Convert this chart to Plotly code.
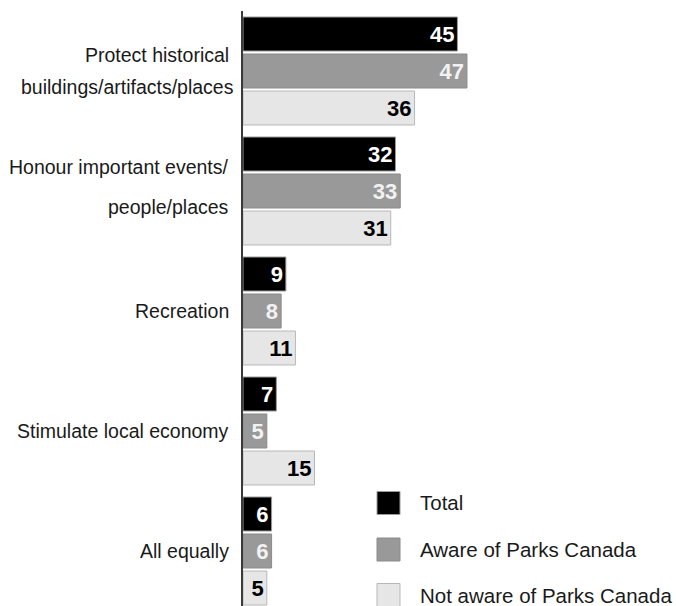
import plotly.graph_objects as go

# Survey categories (top to bottom) and percentages per respondent group
categories = [
    "Protect historical<br>buildings/artifacts/places",
    "Honour important events/<br>people/places",
    "Recreation",
    "Stimulate local economy",
    "All equally",
]
series_names = ["Total", "Aware of Parks Canada", "Not aware of Parks Canada"]
total = [45, 32, 9, 7, 6]
aware = [47, 33, 8, 5, 6]
not_aware = [36, 31, 11, 15, 5]

# Styling
fills = ["#000000", "#999999", "#e6e6e6"]
edges = ["#9a9a9a", "#8a8a8a", "#b8b8b8"]
value_colors = ["#ffffff", "#f2f2f2", "#000000"]
label_font = "Liberation Sans, Arial, sans-serif"
value_font = "Liberation Sans, Arial, sans-serif"

W, H = 676, 606
LEFT, TOP = 243, 11
PX_PER_UNIT = 4.765          # horizontal scale, px per percentage point
PX_PER_CAT = 120             # vertical pitch of each category group

plot_w = W - LEFT
plot_h = H - TOP

fig = go.Figure()
for name, vals, fill, edge, tc in zip(series_names, [total, aware, not_aware],
                                      fills, edges, value_colors):
    fig.add_trace(go.Bar(
        y=categories, x=vals, orientation="h", name=name,
        marker=dict(color=fill, line=dict(color=edge, width=1)),
        text=[str(v) for v in vals],
        textposition="inside", insidetextanchor="end", textangle=0,
        constraintext="none",
        textfont=dict(family=value_font, size=22, color=tc, weight="bold"),
        cliponaxis=False,
    ))

# Category labels drawn line by line (right aligned next to the axis)
line_offsets = {
    0: [(16.5, -12), (-16, -7)],
    1: [(24.5, -12), (-15.5, -12)],
}
annotations = []
for i, cat in enumerate(categories):
    lines = cat.split("<br>")
    offs = line_offsets.get(i, [(0, -12)] * len(lines))
    for line, (dy, dx) in zip(lines, offs):
        annotations.append(dict(
            x=0, y=cat, xref="x", yref="y", text=line, showarrow=False,
            xanchor="right", yanchor="middle", xshift=dx, yshift=dy,
            font=dict(family=label_font, size=19.5, color="#1a1a1a"),
        ))

# Legend: large square swatches with labels
shapes = []
legend_centers = [503, 549.5, 595]
for name, fill, edge, cy in zip(series_names, fills, edges, legend_centers):
    x0, x1 = 377, 400
    y0, y1 = cy - 11.5, cy + 11.5
    shapes.append(dict(
        type="rect", xref="paper", yref="paper",
        x0=(x0 - LEFT) / plot_w, x1=(x1 - LEFT) / plot_w,
        y0=(H - y1) / plot_h, y1=(H - y0) / plot_h,
        fillcolor=fill, line=dict(color=edge, width=1),
    ))
    annotations.append(dict(
        x=(418 - LEFT) / plot_w, y=(H - cy) / plot_h, xref="paper", yref="paper",
        text=name, showarrow=False, xanchor="left", yanchor="middle",
        font=dict(family=label_font, size=20.5, color="#1a1a1a"),
    ))

fig.update_layout(
    width=W, height=H,
    margin=dict(l=LEFT, r=0, t=TOP, b=0, pad=0),
    barmode="group", bargap=0.075, bargroupgap=0.081,
    plot_bgcolor="white", paper_bgcolor="white",
    showlegend=False,
    annotations=annotations, shapes=shapes,
    xaxis=dict(range=[0, plot_w / PX_PER_UNIT], showgrid=False, zeroline=False,
               showticklabels=False, ticks="", showline=False),
    yaxis=dict(type="category", categoryorder="array", categoryarray=categories,
               range=[-0.5 + plot_h / PX_PER_CAT, -0.5],
               showgrid=False, zeroline=False, showticklabels=False, ticks="",
               showline=True, linecolor="#3a3a3a", linewidth=1.5),
)

fig.write_html("out.html")
